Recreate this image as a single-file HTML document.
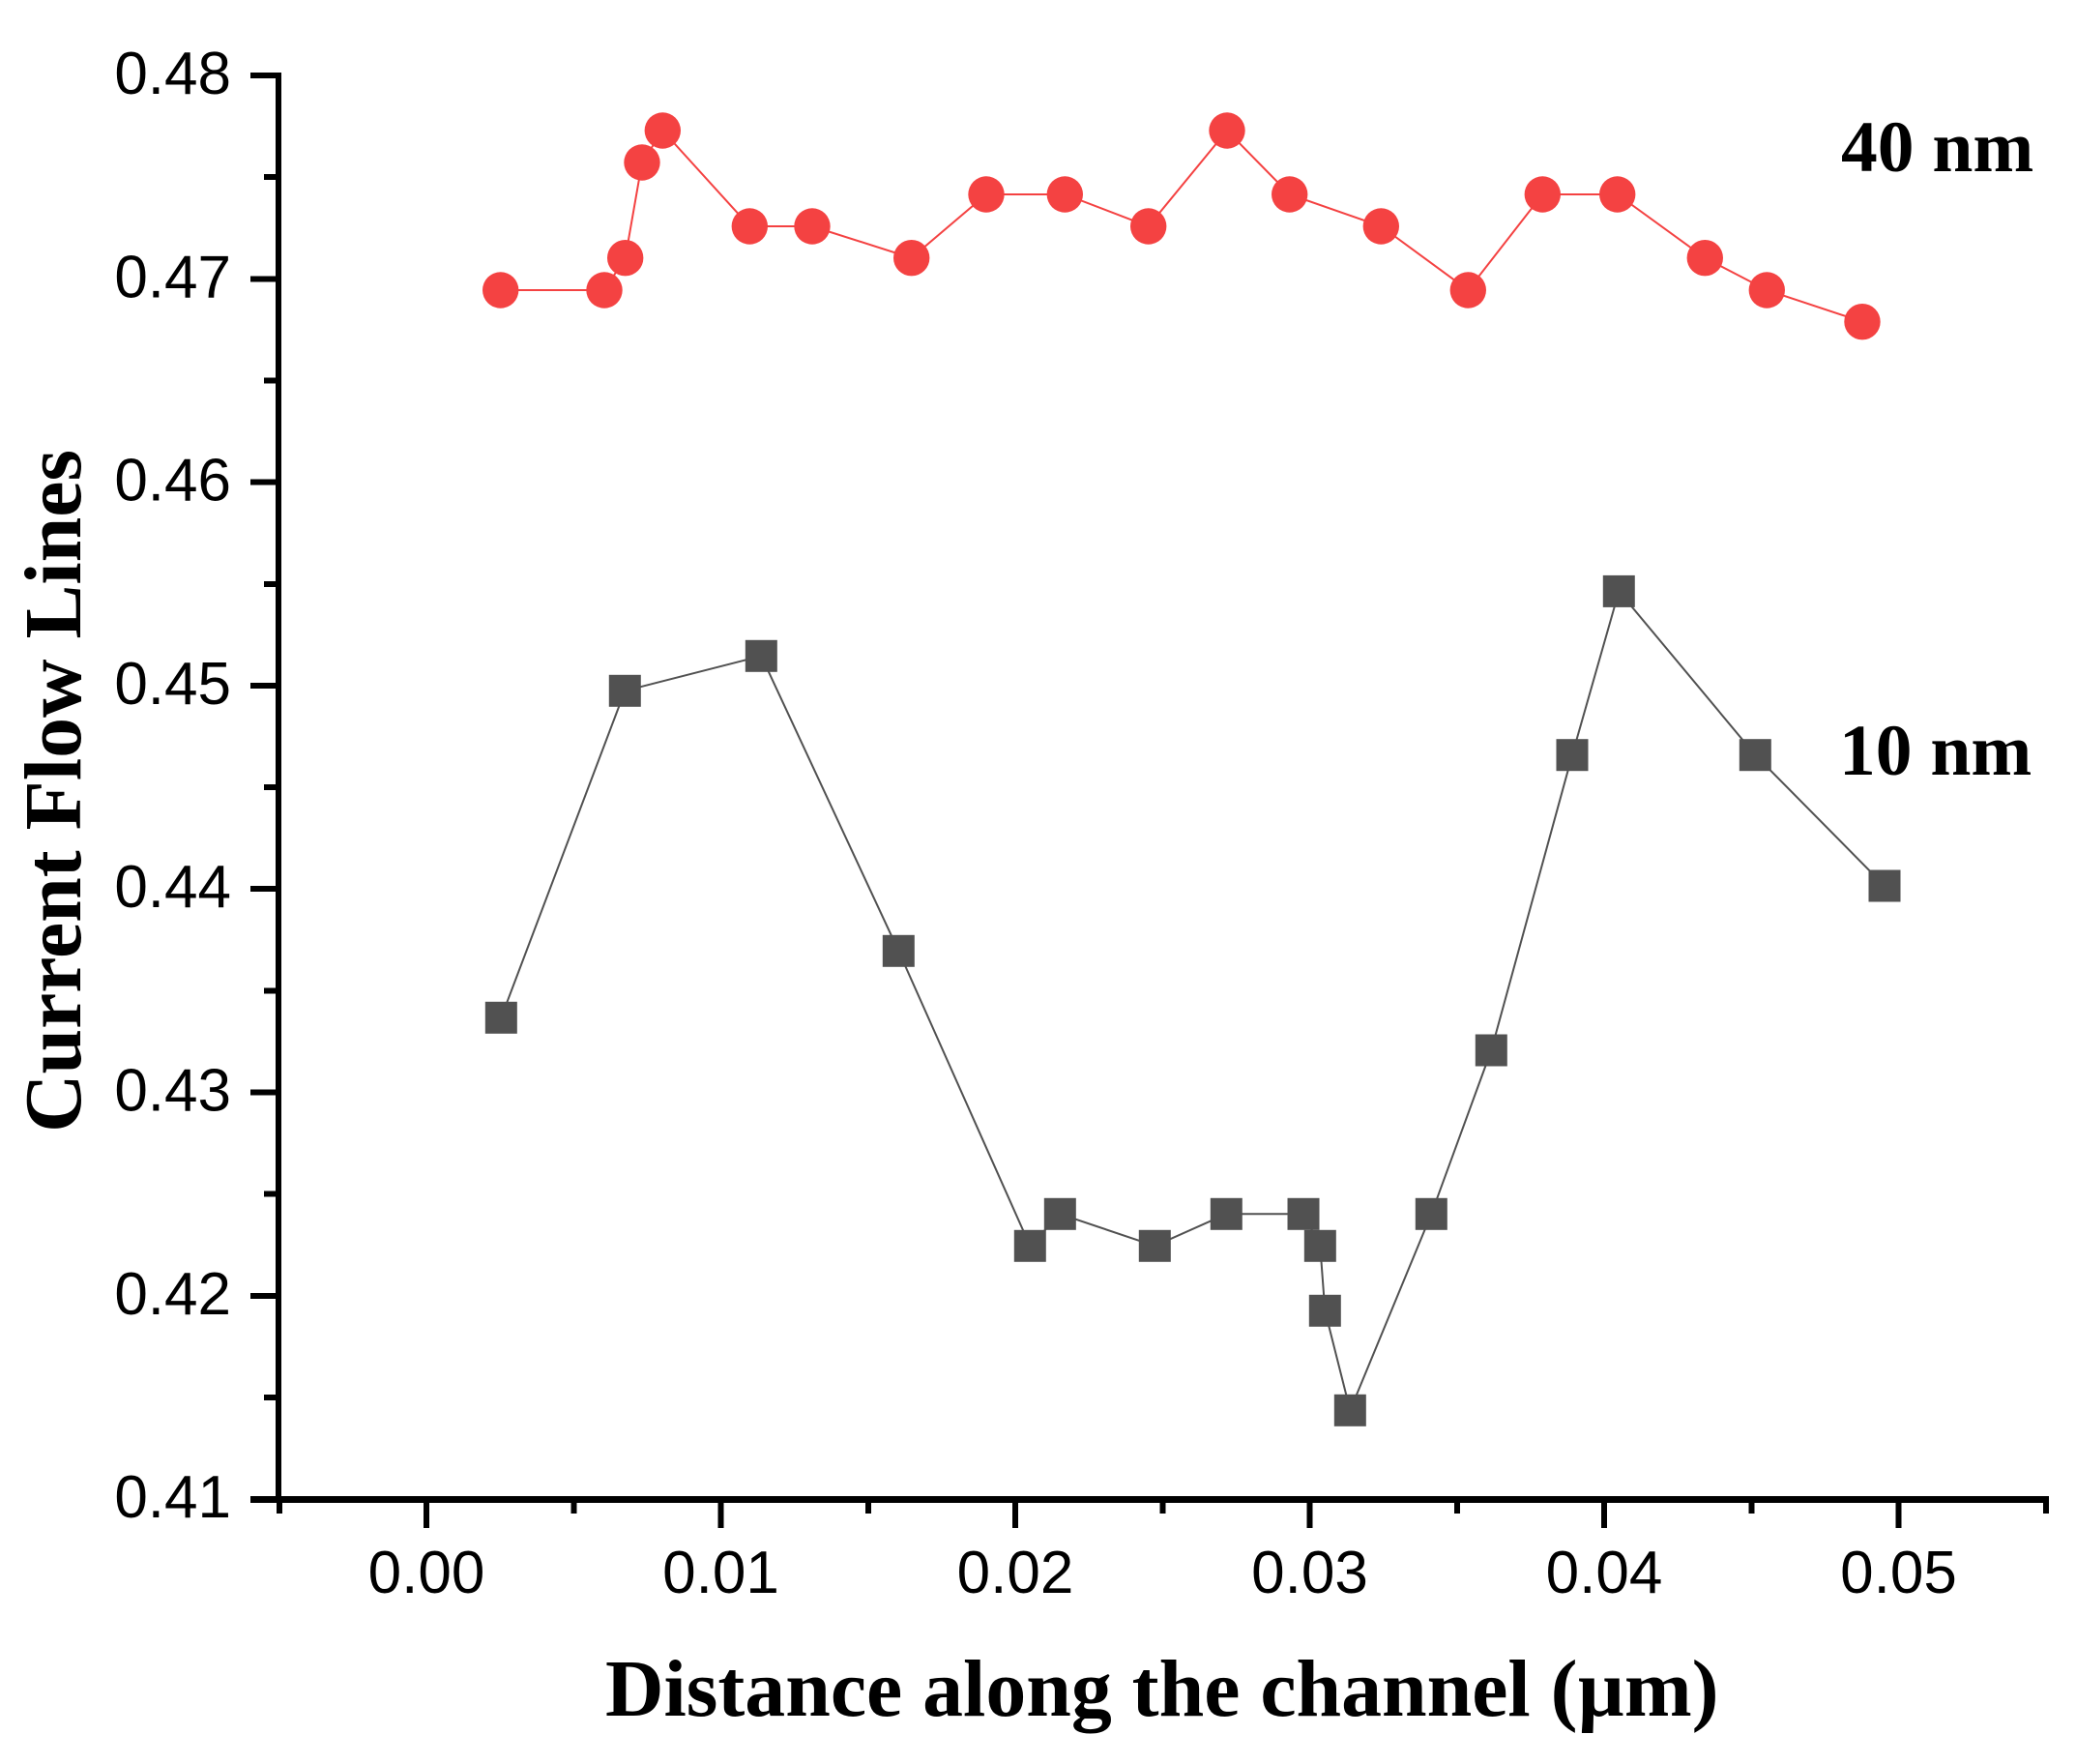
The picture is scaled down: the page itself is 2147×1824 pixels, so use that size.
<!DOCTYPE html>
<html lang="en">
<head>
<meta charset="utf-8">
<title>Current Flow Lines vs Distance along the channel</title>
<style>
  html, body { margin: 0; padding: 0; background: #fff; }
  #chart { display: block; width: 2147px; height: 1824px; background: #fff; }
  .tick-label { font-family: "Liberation Sans", Arial, sans-serif; font-size: 62px; fill: #000; }
  .title { font-family: "Liberation Serif", "Times New Roman", serif; font-weight: bold; font-size: 83.8px; fill: #000; }
  .annot { font-family: "Liberation Serif", "Times New Roman", serif; font-weight: bold; font-size: 75.5px; fill: #000; }
</style>
</head>
<body>
<svg id="chart" xmlns="http://www.w3.org/2000/svg" width="2147" height="1824" viewBox="0 0 2147 1824">
  <g id="axes"></g>
  <g id="series-10nm"></g>
  <g id="series-40nm"></g>
  <text class="title" x="626" y="1774">Distance along the channel (µm)</text>
  <text class="title" transform="translate(83,1171) rotate(-90)" x="0" y="0">Current Flow Lines</text>
  <text class="annot" x="1904" y="177">40 nm</text>
  <text class="annot" x="1902" y="801">10 nm</text>
</svg>
<script>
const xTickValues = [0, 0.01, 0.02, 0.03, 0.04, 0.05];
const xTickLabels = ["0.00", "0.01", "0.02", "0.03", "0.04", "0.05"];
const xMinorValues = [-0.005, 0.005, 0.015, 0.025, 0.035, 0.045, 0.055];
const yTickValues = [0.41, 0.42, 0.43, 0.44, 0.45, 0.46, 0.47, 0.48];
const yTickLabels = ["0.41", "0.42", "0.43", "0.44", "0.45", "0.46", "0.47", "0.48"];
const yMinorValues = [0.415, 0.425, 0.435, 0.445, 0.455, 0.465, 0.475];

const x40 = [0.002519, 0.006043, 0.006755, 0.007323, 0.008023, 0.010979, 0.013103, 0.016476, 0.019015, 0.021685, 0.024522, 0.027192, 0.029317, 0.032424, 0.035379, 0.037908, 0.040450, 0.043425, 0.045527, 0.048768];
const y40 = [0.469444, 0.469444, 0.471027, 0.475720, 0.477290, 0.472582, 0.472582, 0.471027, 0.474151, 0.474151, 0.472582, 0.477290, 0.474151, 0.472582, 0.469444, 0.474151, 0.474151, 0.471027, 0.469444, 0.467889];

const x10 = [0.002539, 0.006742, 0.011373, 0.016036, 0.020502, 0.021521, 0.024739, 0.027169, 0.029787, 0.030355, 0.030519, 0.031373, 0.034131, 0.036167, 0.038916, 0.040502, 0.045133, 0.049524];
const y10 = [0.433671, 0.449743, 0.451455, 0.436952, 0.422449, 0.424018, 0.422449, 0.424018, 0.424018, 0.422449, 0.419263, 0.414365, 0.424018, 0.432068, 0.446586, 0.454636, 0.446586, 0.440152];

const NS = "http://www.w3.org/2000/svg";
function xScale(v) { return 441 + v * 30450; }
function yScale(v) { return 78 + (0.48 - v) * 21030; }
function make(tag, attrs, parent) {
  const node = document.createElementNS(NS, tag);
  for (const k in attrs) node.setAttribute(k, attrs[k]);
  parent.appendChild(node);
  return node;
}

const axes = document.getElementById("axes");

const yLine = make("rect", { x: 285, y: 75, width: 6, height: 1478, fill: "#000", "shape-rendering": "crispEdges" }, axes);



const xLine = make("rect", { x: 259, y: 1547, width: 1860, height: 7, fill: "#000", "shape-rendering": "crispEdges" }, axes);



yTickValues.forEach(function (v, i) {
  const t = make("rect", { x: 259, y: yScale(v) - 3, width: 28, height: 6, fill: "#000", "shape-rendering": "crispEdges" }, axes);
  
  
  const l = make("text", { class: "tick-label", x: 239, y: yScale(v) + 19, "text-anchor": "end" }, axes);
  l.textContent = yTickLabels[i];
  
  
});

yMinorValues.forEach(function (v) {
  const t = make("rect", { x: 273, y: yScale(v) - 3, width: 14, height: 6, fill: "#000", "shape-rendering": "crispEdges" }, axes);
  
  
});

xTickValues.forEach(function (v, i) {
  const t = make("rect", { x: xScale(v) - 3, y: 1550, width: 6, height: 30, fill: "#000", "shape-rendering": "crispEdges" }, axes);
  
  
  const l = make("text", { class: "tick-label", x: xScale(v), y: 1647, "text-anchor": "middle" }, axes);
  l.textContent = xTickLabels[i];
  
  
});

xMinorValues.forEach(function (v) {
  const t = make("rect", { x: xScale(v) - 3, y: 1550, width: 6, height: 15, fill: "#000", "shape-rendering": "crispEdges" }, axes);
  
  
});

function linePoints(xs, ys) {
  return xs.map(function (v, i) { return xScale(v).toFixed(2) + "," + yScale(ys[i]).toFixed(2); }).join(" ");
}

const group10 = document.getElementById("series-10nm");
const line10 = make("polyline", { points: linePoints(x10, y10), fill: "none", stroke: "#515151", "stroke-width": 2 }, group10);


x10.forEach(function (v, i) {
  const m = make("rect", { x: xScale(v) - 16.5, y: yScale(y10[i]) - 16.5, width: 33, height: 33, fill: "#515151" }, group10);
  
  
});

const group40 = document.getElementById("series-40nm");
const line40 = make("polyline", { points: linePoints(x40, y40), fill: "none", stroke: "#F44242", "stroke-width": 2 }, group40);


x40.forEach(function (v, i) {
  const m = make("circle", { cx: xScale(v), cy: yScale(y40[i]), r: 18.7, fill: "#F44242" }, group40);
  
  
});
</script>
</body>
</html>
